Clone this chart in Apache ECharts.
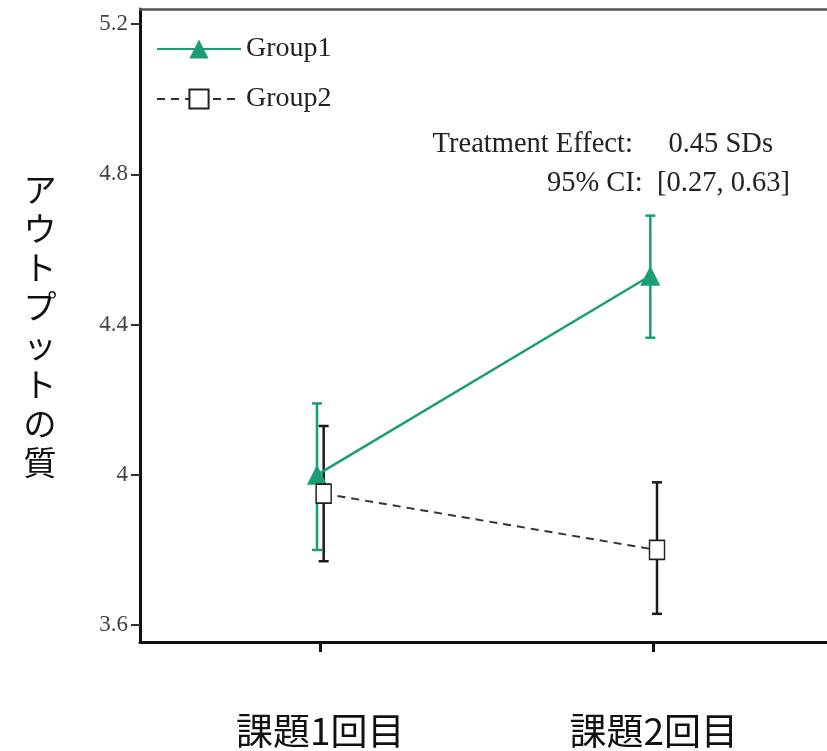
<!DOCTYPE html>
<html>
<head>
<meta charset="utf-8">
<script src="https://cdn.jsdelivr.net/npm/echarts@6/dist/echarts.min.js"></script>
<style>html,body{margin:0;padding:0;background:#fff}#c{width:827px;height:751px}</style>
</head>
<body>
<div id="c"></div>
<script>
// ---- data ----
const categories = ['課題1回目', '課題2回目'];
const groups = ['Group1', 'Group2'];
const group1Mean = [4.00, 4.53];
const group1Low = [3.80, 4.365];
const group1High = [4.19, 4.69];
const group2Mean = [3.95, 3.80];
const group2Low = [3.77, 3.63];
const group2High = [4.13, 3.98];
const yTicks = [3.6, 4, 4.4, 4.8, 5.2];
const yTickLabels = ['3.6', '4', '4.4', '4.8', '5.2'];
const yTitle = 'アウトプットの質';
const annotation1 = 'Treatment Effect:     0.45 SDs';
const annotation2 = '95% CI:  [0.27, 0.63]';
const dodge = 0.01;

const green = '#1b9e77';
const dark = '#1a1a1a';

const xPos = (i, g) => (i + 1) + (g === 0 ? -dodge : dodge);
const g1Line = group1Mean.map((v, i) => [xPos(i, 0), v]);
const g2Line = group2Mean.map((v, i) => [xPos(i, 1), v]);
const g1Err = group1Mean.map((v, i) => [xPos(i, 0), group1Low[i], group1High[i]]);
const g2Err = group2Mean.map((v, i) => [xPos(i, 1), group2Low[i], group2High[i]]);

function errRender(color) {
  return function (params, api) {
    const x = api.value(0);
    const lo = api.coord([x, api.value(1)]);
    const hi = api.coord([x, api.value(2)]);
    const hw = 5;
    const st = { stroke: color, lineWidth: 2.5 };
    return {
      type: 'group',
      children: [
        { type: 'line', shape: { x1: lo[0], y1: lo[1], x2: hi[0], y2: hi[1] }, style: st },
        { type: 'line', shape: { x1: lo[0] - hw, y1: lo[1], x2: lo[0] + hw, y2: lo[1] }, style: st },
        { type: 'line', shape: { x1: hi[0] - hw, y1: hi[1], x2: hi[0] + hw, y2: hi[1] }, style: st }
      ]
    };
  };
}

const serif = '"Liberation Serif", "Times New Roman", serif';
const jp = '"Noto Sans CJK JP", sans-serif';

const chart = echarts.init(document.getElementById('c'));
chart.setOption({
  animation: false,
  backgroundColor: '#fff',
  grid: { left: 140, right: 0, top: 9, bottom: 109 },
  legend: {
    data: groups,
    orient: 'vertical',
    left: 151,
    top: 30,
    itemWidth: 84,
    itemHeight: 24,
    itemGap: 22,
    textStyle: { fontFamily: serif, fontSize: 28, color: '#222', lineHeight: 28 }
  },
  xAxis: [{
    type: 'value',
    min: 0.459,
    max: 2.52,
    splitLine: { show: false },
    axisLine: { show: true, lineStyle: { color: '#111', width: 3 } },
    axisTick: { show: true, customValues: [1, 2], length: 10, lineStyle: { color: '#111', width: 3 } },
    axisLabel: {
      customValues: [1, 2],
      formatter: v => categories[Math.round(v) - 1],
      fontFamily: jp, fontSize: 37, color: '#111', margin: 70
    }
  }, {
    type: 'value',
    position: 'top',
    min: 0.459,
    max: 2.52,
    splitLine: { show: false },
    axisLine: { show: true, lineStyle: { color: '#555', width: 2.5 } },
    axisTick: { show: false },
    axisLabel: { show: false }
  }],
  yAxis: {
    type: 'value',
    min: 3.555,
    max: 5.24,
    splitLine: { show: false },
    axisLine: { show: true, lineStyle: { color: '#111', width: 3 } },
    axisTick: { show: true, customValues: yTicks, length: 9, lineStyle: { color: '#333', width: 2 } },
    axisLabel: {
      customValues: yTicks,
      formatter: v => yTickLabels[yTicks.findIndex(t => Math.abs(t - v) < 1e-6)],
      fontFamily: serif, fontSize: 23, color: '#444', margin: 12
    },
    name: yTitle.split('').join('\n'),
    nameLocation: 'middle',
    nameRotate: 0,
    nameGap: 100,
    nameTextStyle: { fontFamily: jp, fontSize: 33, color: '#111', lineHeight: 39, align: 'center' }
  },
  series: [
    {
      name: 'Group1', type: 'line', data: g1Line,
      symbol: 'triangle', symbolSize: 20,
      lineStyle: { color: green, width: 2.5 },
      itemStyle: { color: green },
      z: 3
    },
    {
      name: 'Group2', type: 'line', data: g2Line,
      symbol: 'rect', symbolSize: [15, 19],
      lineStyle: { color: '#333', width: 2, type: [8, 6] },
      itemStyle: { color: '#fff', borderColor: '#222', borderWidth: 1.6 },
      z: 4
    },
    { type: 'custom', renderItem: errRender(green), data: g1Err, z: 2 },
    { type: 'custom', renderItem: errRender(dark), data: g2Err, z: 2 }
  ],
  graphic: [
    { type: 'text', right: 827 - 773, top: 130, style: { text: annotation1, fontFamily: serif, fontSize: 28.5, fill: '#222' } },
    { type: 'text', right: 827 - 790, top: 169, style: { text: annotation2, fontFamily: serif, fontSize: 28.5, fill: '#222' } }
  ]
});
</script>
</body>
</html>
